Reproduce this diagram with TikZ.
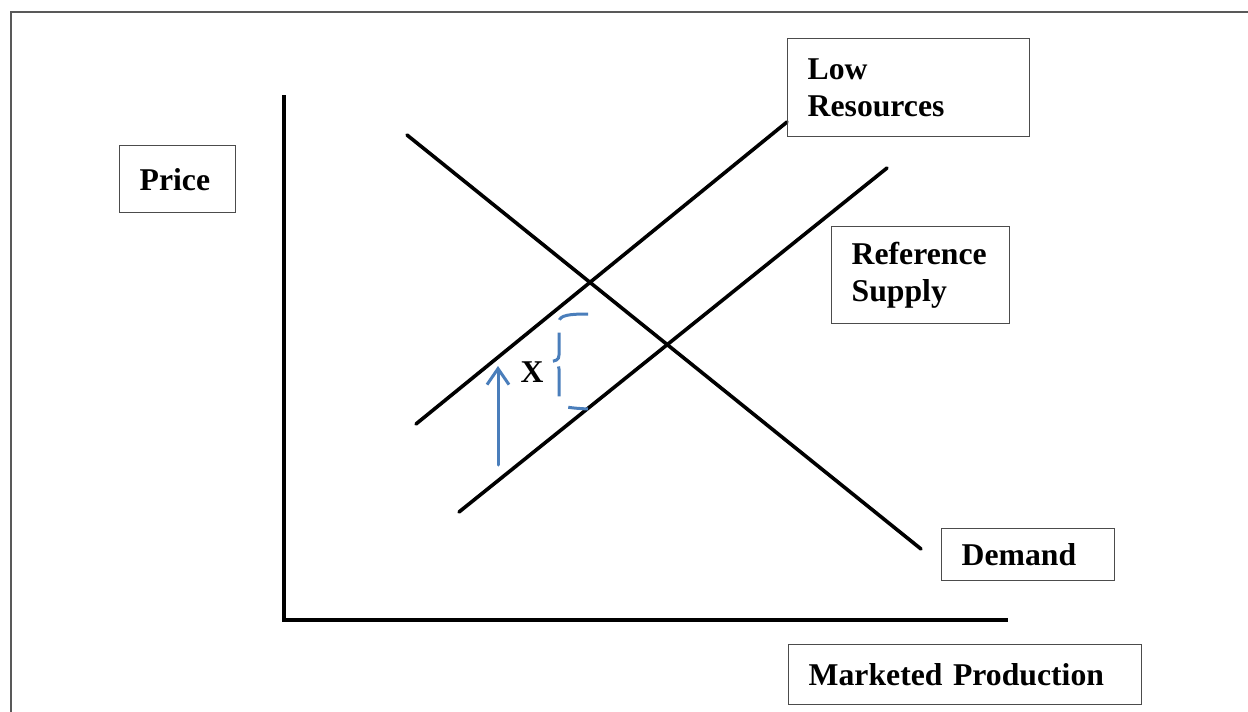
\documentclass[tikz,border=0pt]{standalone}
\usepackage{fontspec}
\setmainfont{Liberation Serif}
\usetikzlibrary{arrows.meta}
\definecolor{shiftblue}{HTML}{4A7EBB}

\begin{document}
\begin{tikzpicture}[x=0.5pt,y=-0.5pt,line cap=round,
  lbl/.style={draw=black!70,line width=0.7pt,anchor=north west,align=left,
    inner xsep=10pt,inner ysep=0pt,font=\bfseries\fontsize{15.85}{18.5}\selectfont},
  curve/.style={line width=1.8pt},
  axis/.style={line width=2pt,line cap=butt}]
\useasboundingbox (0,0) rectangle (1248,712);
% frame
\draw[black!65,line width=1pt] (11,712) -- (11,12) -- (1248,12);
% axes
\draw[axis] (284,95) -- (284,620) -- (1008,620);
% demand and the two supply curves
\draw[curve] (407,135) -- (921,549);
\draw[curve] (416,424) -- (787,122);
\draw[curve] (459,512) -- (887,168);
% labels
\node[lbl,text width=38pt,minimum height=33.5pt] (price) at (119,145) {Price};
\node[lbl,text width=101pt,minimum height=49pt] (lowres) at (787,38) {Low\\Resources};
\node[lbl,text width=69pt,minimum height=48.5pt] (refsup) at (831,226) {Reference\\Supply};
\node[lbl,text width=66.5pt,minimum height=26pt] (demand) at (941,528) {Demand};
\node[lbl,text width=156.5pt,minimum height=30pt] (prod) at (788,644) {Marketed Production};
% shift
\draw[shiftblue,line width=1.5pt,-{Straight Barb[length=8pt,width=11pt]}] (498,465) -- (498,366);
\draw[shiftblue,line width=1.5pt,line cap=butt,
  dash pattern=on 15pt off 6.5pt on 16pt off 8.5pt on 15pt off 8.5pt on 10pt off 2pt]
  (588,314) .. controls (570,314) and (559,315) .. (559,322) -- (559,355)
  .. controls (559,360) and (556,361) .. (548,362)
  .. controls (556,363) and (559,364) .. (559,369) -- (559,402)
  .. controls (559,407) and (570,408) .. (588,409);
\node[font=\bfseries\fontsize{15.85}{18.5}\selectfont] (x) at (532,372) {X};
\end{tikzpicture}
\end{document}
